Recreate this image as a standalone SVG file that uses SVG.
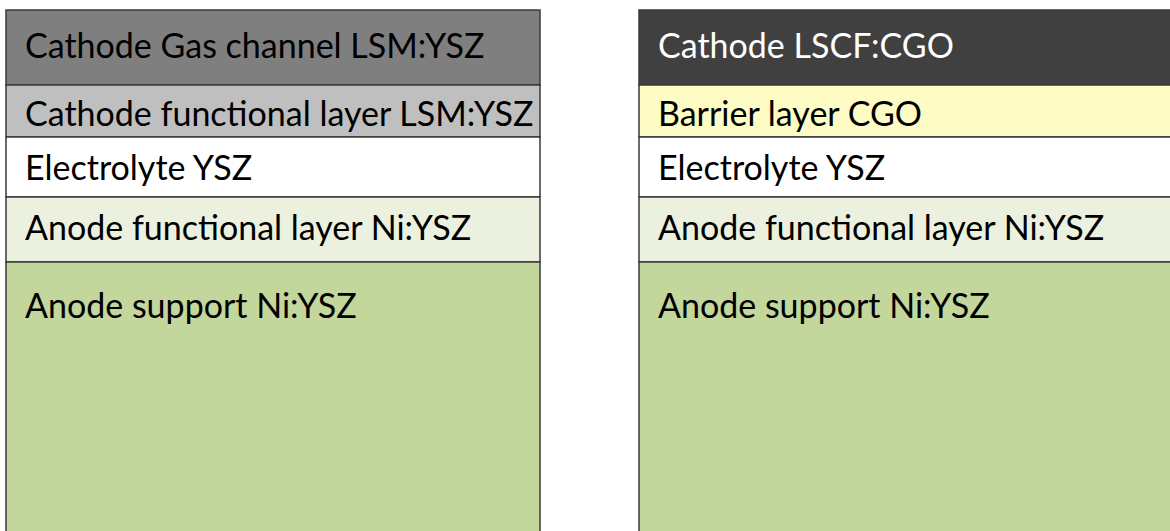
<svg xmlns="http://www.w3.org/2000/svg" width="1170" height="531" viewBox="0 0 1170 531">
<style>
.l{stroke:#3a3a3a;stroke-width:1.5}
.t{font-family:"Lato","Open Sans","Liberation Sans",sans-serif;font-size:34px;fill:#000}
.w{fill:#fff}
</style>
<rect width="1170" height="531" fill="#fff"/>
<g id="left-stack">
<g id="l-gas"><rect class="l" x="6" y="10" width="534" height="75" fill="#7f7f7f"/><text class="t" x="25" y="58">Cathode Gas channel LSM:YSZ</text></g>
<g id="l-cfl"><rect class="l" x="6" y="85" width="534" height="52" fill="#bfbfbf"/><text class="t" x="25" y="126">Cathode functional layer LSM:YSZ</text></g>
<g id="l-ely"><rect class="l" x="6" y="137" width="534" height="60" fill="#fff"/><text class="t" x="25" y="180">Electrolyte YSZ</text></g>
<g id="l-afl"><rect class="l" x="6" y="197" width="534" height="65" fill="#ebf1de"/><text class="t" x="25" y="240">Anode functional layer Ni:YSZ</text></g>
<g id="l-sup"><rect class="l" x="6" y="262" width="534" height="280" fill="#c3d69b"/><text class="t" x="25" y="318">Anode support Ni:YSZ</text></g>
</g>
<g id="right-stack">
<g id="r-cat"><rect class="l" x="639" y="10" width="540" height="75" fill="#404040"/><text class="t w" x="658" y="58">Cathode LSCF:CGO</text></g>
<g id="r-bar"><rect class="l" x="639" y="85" width="540" height="52" fill="#fdfcc5"/><text class="t" x="658" y="126">Barrier layer CGO</text></g>
<g id="r-ely"><rect class="l" x="639" y="137" width="540" height="60" fill="#fff"/><text class="t" x="658" y="180">Electrolyte YSZ</text></g>
<g id="r-afl"><rect class="l" x="639" y="197" width="540" height="65" fill="#ebf1de"/><text class="t" x="658" y="240">Anode functional layer Ni:YSZ</text></g>
<g id="r-sup"><rect class="l" x="639" y="262" width="540" height="280" fill="#c3d69b"/><text class="t" x="658" y="318">Anode support Ni:YSZ</text></g>
</g>
</svg>
